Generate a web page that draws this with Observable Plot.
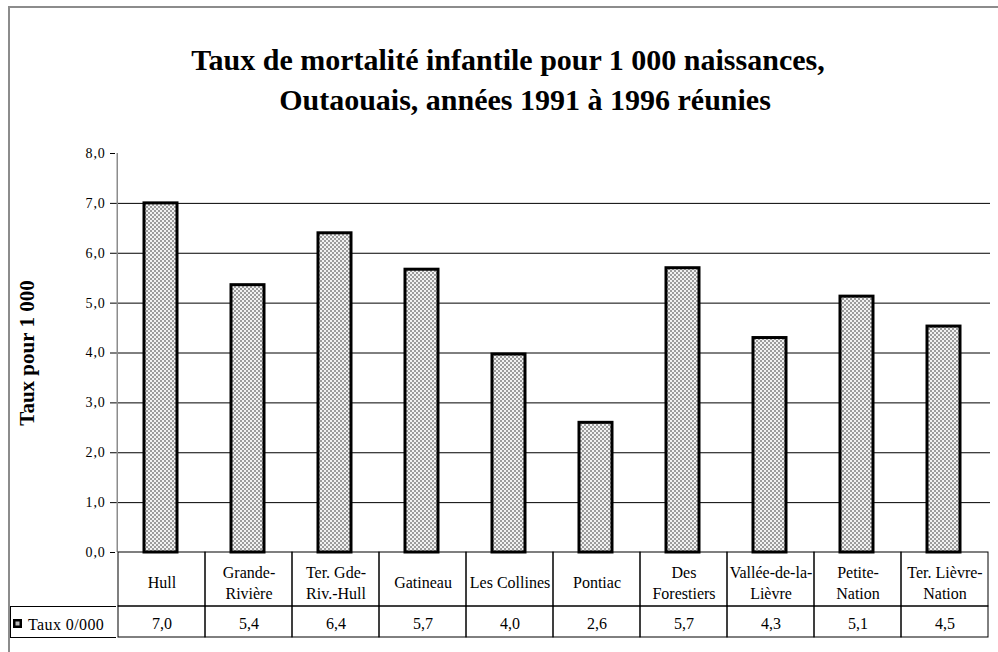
<!DOCTYPE html>
<html>
<head>
<meta charset="utf-8">
<script src="https://cdn.jsdelivr.net/npm/d3@7"></script>
<script src="https://cdn.jsdelivr.net/npm/@observablehq/plot@0.6"></script>
<style>
  body { margin: 0; background: #fff; }
  #wrap { position: relative; width: 998px; height: 652px; overflow: hidden; background: #fff;
          font-family: "Liberation Serif", "Times New Roman", serif; color: #000; }
  #frame { position: absolute; left: 8px; top: 6px; width: 1100px; height: 800px;
           border-left: 2px solid #8c8c8c; border-top: 2px solid #8c8c8c; }
  .title { position: absolute; width: 998px; text-align: center; font-weight: bold;
           font-size: 30px; line-height: 39px; white-space: nowrap; }
  .layer { position: absolute; left: 0; }
  #legend { position: absolute; left: 10px; top: 606px; width: 106px; height: 32px; box-sizing: border-box;
            border: 1px solid #000; border-right: none; font-size: 16px; letter-spacing: 0.4px; }
  #legend svg { position: absolute; left: 2px; top: 12px; }
  #legend span { position: absolute; left: 17px; top: 9px; line-height: 18px; white-space: nowrap; }
  #main svg g[aria-label="y-axis tick label"] text { letter-spacing: 0.8px; }
</style>
</head>
<body>
<div id="wrap">
  <div id="frame"></div>
  <div class="title" style="left:9px; top:40px;">Taux de mortalité infantile pour 1 000 naissances,</div>
  <div class="title" style="left:26px; top:80px;">Outaouais, années 1991 à 1996 réunies</div>
  <div class="layer" id="main" style="top:0"></div>
  <div class="layer" id="head" style="top:552px"></div>
  <div class="layer" id="vals" style="top:606px"></div>
  <div id="legend"><svg width="10" height="10"></svg><span></span></div>
</div>
<script>
// ---- data ----
const categories = ["Hull", "Grande-Rivière", "Ter. Gde-Riv.-Hull", "Gatineau", "Les Collines",
                    "Pontiac", "Des Forestiers", "Vallée-de-la-Lièvre", "Petite-Nation", "Ter. Lièvre-Nation"];
const headerLabels = ["Hull", "Grande-\nRivière", "Ter. Gde-\nRiv.-Hull", "Gatineau", "Les Collines",
                      "Pontiac", "Des\nForestiers", "Vallée-de-la-\nLièvre", "Petite-\nNation", "Ter. Lièvre-\nNation"];
const values = [7.0, 5.36, 6.4, 5.67, 3.97, 2.6, 5.7, 4.3, 5.13, 4.53];
const yTicks = [0, 1, 2, 3, 4, 5, 6, 7, 8];
const gridValues = [1, 2, 3, 4, 5, 6, 7];
const seriesName = "Taux 0/000";
const yLabel = "Taux pour 1 000";

const data = categories.map((c, i) => ({cat: c, value: values[i], head: headerLabels[i]}));
const fmt = v => v.toFixed(1).replace(".", ",");

const W = 998, ML = 115, MR = 8;
const step = (W - ML - MR) / categories.length;
const baseStyle = {background: "none", fontFamily: "'Liberation Serif', 'Times New Roman', serif", color: "#000", overflow: "visible"};

function addPattern(svgEl) {
  const svg = d3.select(svgEl);
  const defs = svg.insert("defs", ":first-child");
  const p = defs.append("pattern").attr("id", "chk").attr("width", 4).attr("height", 4)
    .attr("patternUnits", "userSpaceOnUse");
  p.append("rect").attr("width", 4).attr("height", 4).attr("fill", "#f2f2f2");
  p.append("rect").attr("width", 2).attr("height", 2).attr("fill", "#9c9c9c");
  p.append("rect").attr("x", 2).attr("y", 2).attr("width", 2).attr("height", 2).attr("fill", "#9c9c9c");
}

// ---- main chart ----
const main = Plot.plot({
  width: W, height: 553,
  marginLeft: ML, marginRight: MR, marginTop: 153, marginBottom: 1,
  style: {...baseStyle, fontSize: "14px"},
  x: {domain: categories, paddingInner: 0.62, paddingOuter: 0.31, axis: null},
  y: {domain: [0, 8], axis: null},
  marks: [
    Plot.ruleY(gridValues, {stroke: "#000", strokeWidth: 1}),
    Plot.ruleX([categories[0]], {x: d => d, dx: -step / 2, stroke: "#8c8c8c", strokeWidth: 1.5}),
    Plot.axisY({ticks: yTicks, tickSize: 5, tickPadding: 5, tickFormat: fmt, label: null, fontSize: 14}),
    Plot.barY(data, {x: "cat", y: "value", fill: "url(#chk)", stroke: "#000", strokeWidth: 3}),
    Plot.text([yLabel], {frameAnchor: "left", textAnchor: "middle", dx: -88, rotate: -90, fontSize: 21, fontWeight: "bold"})
  ]
});
addPattern(main);
document.getElementById("main").appendChild(main);

// ---- data table: header row ----
const head = Plot.plot({
  width: W, height: 55,
  marginLeft: ML, marginRight: MR, marginTop: 0, marginBottom: 1,
  style: {...baseStyle, fontSize: "16px"},
  x: {domain: categories, padding: 0, axis: null},
  marks: [
    Plot.cell(data, {x: "cat", fill: "none", stroke: "#000"}),
    Plot.text(data, {x: "cat", text: "head", fontSize: 16, lineHeight: 1.33, dy: 2})
  ]
});
document.getElementById("head").appendChild(head);

// ---- data table: value row ----
const vals = Plot.plot({
  width: W, height: 32,
  marginLeft: ML, marginRight: MR, marginTop: 0, marginBottom: 1,
  style: {...baseStyle, fontSize: "16px"},
  x: {domain: categories, padding: 0, axis: null},
  marks: [
    Plot.cell(data, {x: "cat", fill: "none", stroke: "#000"}),
    Plot.text(data, {x: "cat", text: d => fmt(d.value), fontSize: 16, dy: 2})
  ]
});
document.getElementById("vals").appendChild(vals);

// ---- legend key ----
const key = d3.select("#legend svg");
key.append("rect").attr("width", 9).attr("height", 9).attr("fill", "#000");
key.append("rect").attr("x", 2.5).attr("y", 2.5).attr("width", 4).attr("height", 4).attr("fill", "#bbb");
document.querySelector("#legend span").textContent = seriesName;
</script>
</body>
</html>
